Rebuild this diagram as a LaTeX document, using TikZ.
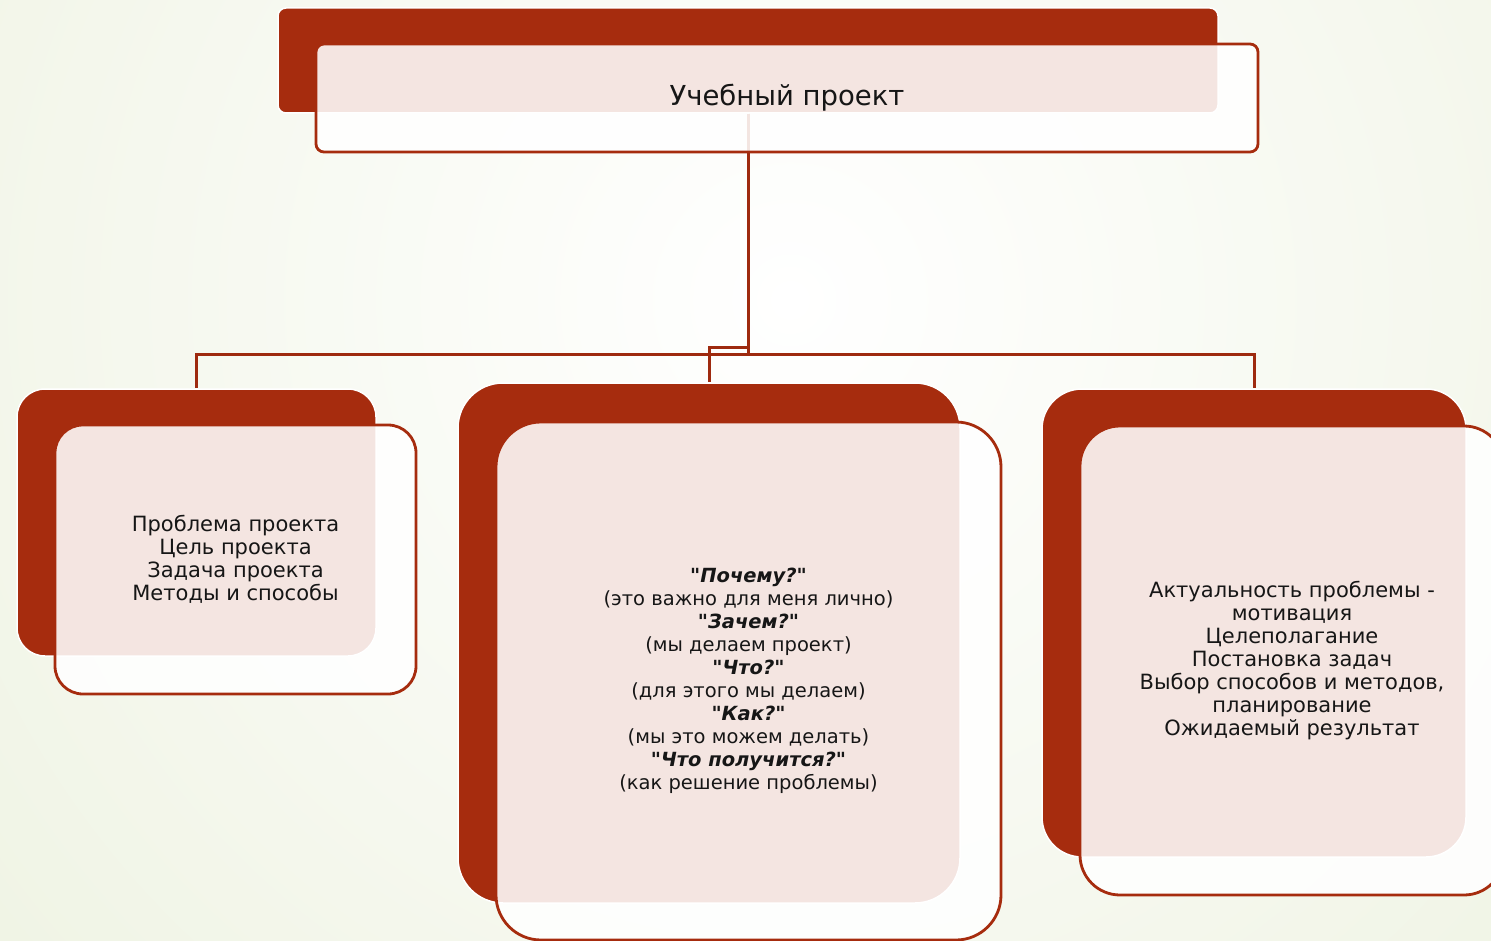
\documentclass[tikz,border=0pt]{standalone}
\usepackage{fontspec}
\setmainfont[Ligatures=TeXOff]{DejaVu Sans}
\definecolor{brick}{RGB}{166,44,14}
\definecolor{linec}{RGB}{158,42,15}
\definecolor{bggreen}{RGB}{229,236,210}
\definecolor{txt}{RGB}{22,22,22}
\newcommand\qline[1]{{\bfseries\itshape"#1"}}
\begin{document}
\begin{tikzpicture}[x=1pt,y=-1pt,
  back/.style={fill=brick, draw=white, line width=1.5pt, rounded corners=#1, inner sep=0pt},
  front/.style={fill=white, fill opacity=0.88, text opacity=1, draw=brick, line width=2.8pt,
    rounded corners=#1, inner sep=0pt, align=center, text=txt, font=\fontsize{21}{23}\selectfont},
  conn/.style={draw=linec, line width=3pt}]
\useasboundingbox (0,0) rectangle (1491,941);
\clip (0,0) rectangle (1491,941);
\shade[inner color=white, outer color=bggreen] (790,300) circle (1750);
% back boxes
\node[back=8, minimum width=940pt, minimum height=105pt] (pd) at (748,60.5) {};
\node[back=28, minimum width=359pt, minimum height=267pt] (ld) at (196.5,522.5) {};
\node[back=45, minimum width=502pt, minimum height=520pt] (md) at (709,643) {};
\node[back=40, minimum width=424pt, minimum height=468pt] (rd) at (1254,623) {};
% connectors
\draw[conn] (pd.south) -- ++(0,241) -| (ld.north);
\draw[conn] (pd.south) -- ++(0,234) -| (md.north);
\draw[conn] (pd.south) -- ++(0,241) -| (rd.north);
% front boxes
\node[front=8, minimum width=942pt, minimum height=108pt, font=\fontsize{27.5}{30}\selectfont] (pf) at (787,98) {Учебный проект};
\node[front=28, minimum width=361pt, minimum height=269pt] (lf) at (235.5,559.5)
  {Проблема проекта\\Цель проекта\\Задача проекта\\Методы и способы};
\node[front=45, minimum width=505pt, minimum height=518pt, font=\fontsize{19.5}{23}\selectfont] (mf) at (748.5,681)
  {\qline{Почему?}\\(это важно для меня лично)\\\qline{Зачем?}\\(мы делаем проект)\\\qline{Что?}\\(для этого мы делаем)\\\qline{Как?}\\(мы это можем делать)\\\qline{Что получится?}\\(как решение проблемы)};
\node[front=40, minimum width=424pt, minimum height=469pt] (rf) at (1292,660.5)
  {Актуальность проблемы -\\мотивация\\Целеполагание\\Постановка задач\\Выбор способов и методов,\\планирование\\Ожидаемый результат};
\end{tikzpicture}
\end{document}
